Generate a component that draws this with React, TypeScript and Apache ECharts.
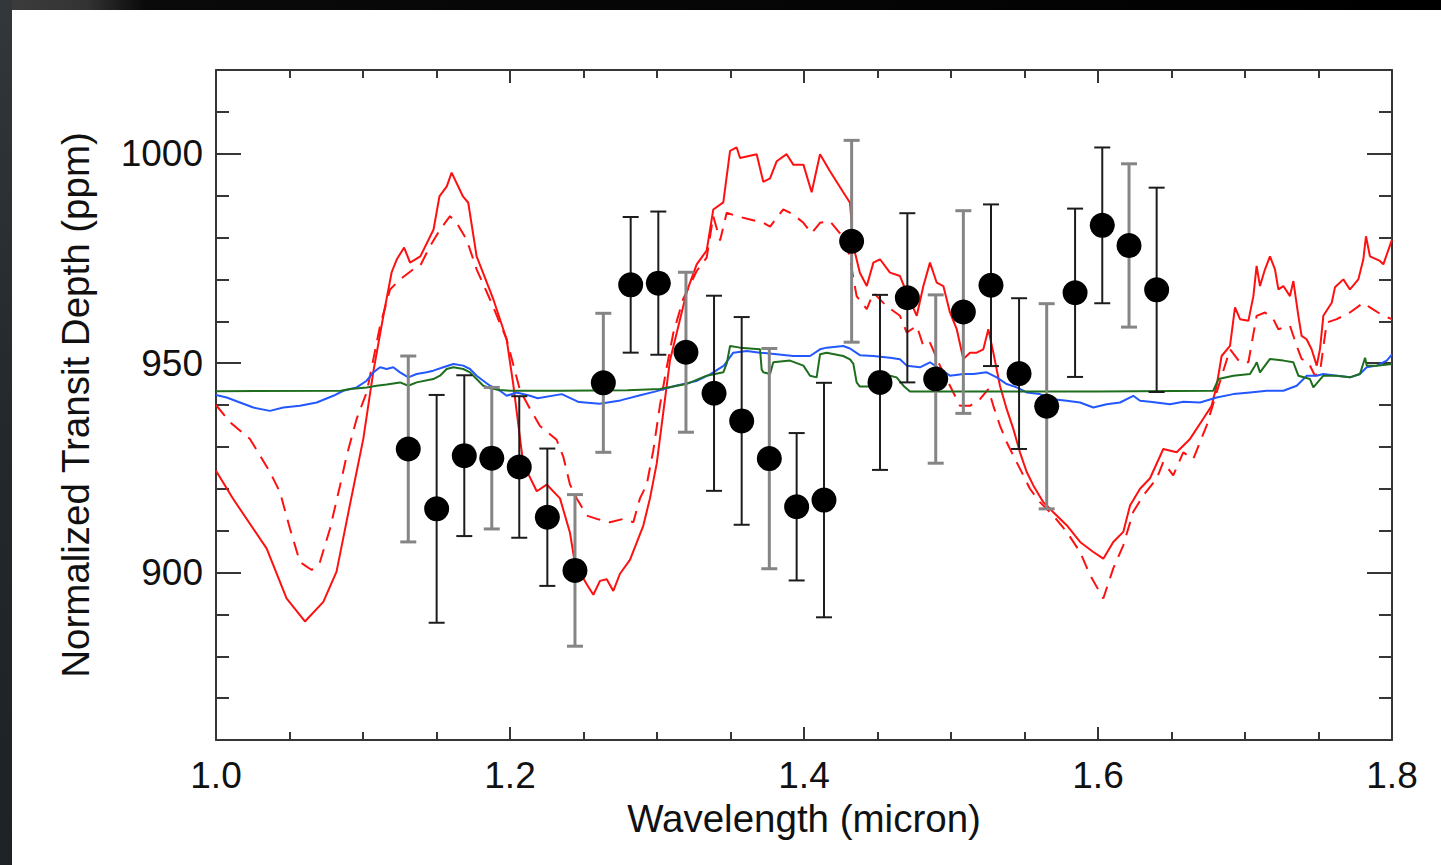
import React, { useEffect, useRef } from "react";
import * as echarts from "echarts";

// ---- axes ----
const xMin = 1.0;
const xMax = 1.8;
const xStep = 0.2;
const yMin = 860;
const yMax = 1020;
const yMinorStep = 10;
const yMajorTicks = [900, 950, 1000];

// ---- model spectra: [wavelength (micron), transit depth (ppm)] ----
const redSolid: number[][] = [
  [1.0, 924.3], [1.0116, 917.6], [1.0345, 905.7], [1.048, 893.8], [1.0605, 888.3], [1.073, 893.0],
  [1.082, 900.2], [1.091, 916.0], [1.1002, 931.9], [1.107, 947.9], [1.1138, 961.2], [1.1195, 971.7],
  [1.123, 974.8], [1.128, 977.6], [1.132, 974.0], [1.139, 975.5], [1.148, 981.9], [1.152, 989.8],
  [1.157, 992.2], [1.1603, 995.5], [1.168, 989.8], [1.1716, 988.3], [1.1773, 975.5], [1.1887, 965.2],
  [1.1977, 955.7], [1.2022, 945.0], [1.209, 926.0], [1.2182, 919.4], [1.225, 921.0], [1.234, 917.7],
  [1.2408, 909.5], [1.2442, 902.1], [1.2522, 897.2], [1.2567, 894.7], [1.2612, 898.0], [1.2658, 898.4],
  [1.2703, 895.6], [1.2748, 899.7], [1.2816, 903.0], [1.2907, 911.2], [1.2952, 917.7], [1.2998, 926.0],
  [1.3043, 938.3], [1.3088, 950.6], [1.3134, 957.2], [1.3202, 967.0], [1.327, 973.6], [1.3338, 976.9],
  [1.3383, 986.7], [1.3451, 988.4], [1.3497, 1000.7], [1.3542, 1001.5], [1.3565, 999.0], [1.3678, 999.9],
  [1.3723, 993.3], [1.3769, 994.1], [1.3814, 998.2], [1.3882, 999.9], [1.3927, 997.4], [1.3996, 997.4],
  [1.4052, 990.8], [1.4109, 999.9], [1.4177, 995.8], [1.4267, 990.8], [1.4313, 988.3], [1.4336, 977.9],
  [1.438, 971.6], [1.4427, 968.4], [1.4472, 974.0], [1.4517, 974.8], [1.4585, 971.6], [1.4653, 970.8],
  [1.4699, 966.8], [1.4767, 961.3], [1.4812, 968.4], [1.4857, 974.0], [1.4903, 969.2], [1.4948, 968.4],
  [1.4993, 962.1], [1.5039, 958.1], [1.5084, 951.0], [1.5129, 952.5], [1.5175, 952.5], [1.522, 953.3],
  [1.5254, 958.1], [1.5288, 952.5], [1.5333, 944.6], [1.5379, 939.0], [1.5424, 934.3], [1.5469, 928.7],
  [1.5515, 924.0], [1.556, 920.8], [1.5628, 916.8], [1.5696, 914.4], [1.5787, 911.3], [1.5878, 907.3],
  [1.5968, 904.9], [1.6036, 903.3], [1.6104, 907.3], [1.6172, 909.7], [1.6218, 916.0], [1.6286, 920.0],
  [1.6354, 922.5], [1.6444, 929.5], [1.6535, 928.7], [1.6626, 931.9], [1.6716, 936.7], [1.6773, 939.8],
  [1.6807, 944.6], [1.6841, 951.7], [1.6898, 954.1], [1.6932, 963.3], [1.6966, 960.5], [1.7023, 960.1],
  [1.7057, 966.0], [1.7079, 973.2], [1.7102, 968.4], [1.7136, 972.4], [1.717, 975.5], [1.7204, 972.4],
  [1.7227, 967.6], [1.7261, 968.4], [1.7306, 966.0], [1.7329, 969.6], [1.7363, 961.3], [1.7385, 956.5],
  [1.7419, 955.7], [1.7453, 953.3], [1.7488, 949.4], [1.751, 953.3], [1.7533, 961.3], [1.759, 964.4],
  [1.7612, 968.1], [1.7669, 970.0], [1.7714, 967.6], [1.7771, 970.0], [1.7805, 974.8], [1.7823, 980.3],
  [1.785, 975.5], [1.7918, 974.4], [1.7941, 973.6], [1.8, 979.5],
];

const redDashed: number[][] = [
  [1.0, 940.0], [1.0095, 935.9], [1.0231, 931.9], [1.0367, 924.0], [1.0435, 919.2], [1.0503, 910.5],
  [1.0571, 902.5], [1.0651, 900.6], [1.0707, 902.5], [1.0776, 910.5], [1.0844, 920.8], [1.0889, 927.9],
  [1.0957, 936.7], [1.1025, 943.0], [1.1116, 958.9], [1.1184, 967.6], [1.1252, 970.0], [1.1342, 972.4],
  [1.1388, 973.2], [1.1456, 977.9], [1.1524, 981.9], [1.1592, 985.1], [1.1637, 983.5], [1.1705, 979.5],
  [1.1773, 972.4], [1.1864, 965.2], [1.1977, 955.7], [1.2068, 943.5], [1.2136, 939.1], [1.2204, 935.0],
  [1.2317, 931.7], [1.2363, 927.6], [1.2408, 921.0], [1.2454, 917.7], [1.2522, 913.6], [1.259, 912.8],
  [1.268, 912.0], [1.2771, 912.8], [1.2839, 912.0], [1.2884, 917.7], [1.293, 921.0], [1.2975, 929.2],
  [1.302, 939.9], [1.3066, 949.0], [1.3111, 957.2], [1.3179, 965.4], [1.327, 972.0], [1.3338, 975.2],
  [1.3383, 985.1], [1.3429, 979.3], [1.3474, 985.9], [1.3542, 985.1], [1.3633, 984.3], [1.3723, 983.5],
  [1.3769, 982.6], [1.3859, 986.7], [1.3927, 985.5], [1.3996, 983.5], [1.4052, 981.0], [1.4109, 983.5],
  [1.4177, 983.9], [1.4245, 981.0], [1.429, 978.5], [1.4313, 974.8], [1.4358, 966.0], [1.4427, 962.9],
  [1.4472, 966.8], [1.4562, 963.6], [1.4653, 961.3], [1.4699, 957.3], [1.4767, 958.9], [1.4812, 954.1],
  [1.4857, 954.9], [1.4925, 949.4], [1.4993, 944.6], [1.5061, 939.8], [1.5129, 939.8], [1.5197, 941.4],
  [1.5254, 943.8], [1.5288, 939.8], [1.5333, 935.1], [1.5379, 931.1], [1.5424, 927.9], [1.5469, 924.8],
  [1.5537, 920.0], [1.5605, 916.8], [1.5696, 913.6], [1.5787, 909.7], [1.5878, 904.9], [1.5946, 899.4],
  [1.6036, 893.8], [1.6104, 901.0], [1.6172, 906.5], [1.624, 914.5], [1.6308, 918.4], [1.6399, 922.4],
  [1.6444, 926.4], [1.6512, 923.2], [1.658, 928.7], [1.6648, 927.1], [1.6739, 935.1], [1.6807, 943.0],
  [1.6898, 953.3], [1.6966, 950.2], [1.7023, 950.2], [1.7079, 961.3], [1.7136, 962.1], [1.7193, 960.5],
  [1.7227, 958.1], [1.7306, 958.9], [1.7352, 954.1], [1.7385, 951.0], [1.7431, 950.2], [1.7476, 947.0],
  [1.751, 947.8], [1.7556, 959.7], [1.7624, 960.5], [1.7714, 962.1], [1.7805, 964.4], [1.785, 963.3],
  [1.7941, 961.3], [1.8, 960.5],
];

const blueModel: number[][] = [
  [1.0, 942.4], [1.0073, 941.8], [1.0163, 940.6], [1.0254, 939.4], [1.0367, 938.6], [1.0458, 939.4],
  [1.0571, 939.8], [1.0685, 940.6], [1.0798, 942.2], [1.0866, 943.4], [1.0957, 944.2], [1.1025, 945.8],
  [1.107, 947.8], [1.1116, 949.0], [1.1161, 948.6], [1.1206, 949.0], [1.1252, 947.8], [1.1308, 946.6],
  [1.1365, 947.4], [1.1433, 947.8], [1.1478, 948.2], [1.1546, 949.0], [1.1615, 949.8], [1.1682, 949.4],
  [1.1728, 948.6], [1.1773, 947.0], [1.1818, 945.8], [1.1864, 944.6], [1.1932, 943.4], [1.1977, 942.2],
  [1.2045, 943.0], [1.2136, 942.2], [1.2188, 941.6], [1.2352, 942.6], [1.2469, 940.7], [1.261, 940.3],
  [1.2751, 941.1], [1.2892, 942.4], [1.2986, 943.2], [1.3127, 944.6], [1.3267, 945.7], [1.3361, 947.3],
  [1.3455, 949.4], [1.3519, 952.5], [1.361, 952.9], [1.3701, 952.5], [1.3814, 952.1], [1.3927, 951.7],
  [1.4041, 951.7], [1.4109, 953.3], [1.4154, 953.7], [1.4267, 954.1], [1.4313, 953.5], [1.438, 951.9],
  [1.4472, 951.7], [1.4585, 951.3], [1.4653, 950.9], [1.4699, 949.4], [1.4789, 949.0], [1.4857, 950.2],
  [1.4925, 948.6], [1.4993, 947.0], [1.5084, 947.4], [1.5152, 947.4], [1.5243, 947.8], [1.5311, 946.6],
  [1.5379, 945.0], [1.5447, 944.2], [1.5515, 943.0], [1.5605, 942.6], [1.5696, 941.4], [1.5787, 941.0],
  [1.5878, 940.6], [1.5968, 939.4], [1.6059, 940.2], [1.615, 940.6], [1.624, 942.2], [1.6286, 941.0],
  [1.6354, 940.8], [1.649, 940.2], [1.6581, 940.8], [1.6694, 940.6], [1.6807, 941.8], [1.6921, 942.6],
  [1.7034, 943.0], [1.7148, 943.4], [1.7261, 943.4], [1.7352, 944.6], [1.742, 947.0], [1.7488, 947.0],
  [1.7533, 947.4], [1.7624, 947.0], [1.7714, 946.6], [1.7782, 947.4], [1.7828, 949.0], [1.7896, 949.4],
  [1.7964, 950.6], [1.8, 952.1],
];

const greenModel: number[][] = [
  [1.0, 943.3], [1.085, 943.4], [1.0912, 943.8], [1.1025, 944.2], [1.1093, 944.6], [1.1161, 944.9],
  [1.1252, 945.4], [1.1308, 944.6], [1.1365, 945.4], [1.1478, 946.2], [1.1524, 947.0], [1.1569, 948.6],
  [1.1615, 949.0], [1.1682, 948.6], [1.1728, 947.8], [1.1773, 946.2], [1.1818, 944.6], [1.1864, 944.0],
  [1.1932, 943.6], [1.2, 943.4], [1.234, 943.4], [1.28, 943.5], [1.302, 943.8], [1.32, 945.0],
  [1.3338, 947.0], [1.3451, 947.8], [1.3475, 950.0], [1.3497, 954.1], [1.3565, 953.7], [1.3701, 953.3],
  [1.3712, 948.5], [1.3723, 947.8], [1.3769, 947.4], [1.3791, 950.2], [1.3905, 950.6], [1.3996, 949.4],
  [1.4041, 947.0], [1.4086, 946.6], [1.4109, 952.1], [1.4154, 952.5], [1.4267, 951.7], [1.4313, 950.9],
  [1.4336, 949.8], [1.4358, 945.4], [1.438, 944.4], [1.4472, 944.4], [1.4517, 945.6], [1.4585, 947.0],
  [1.463, 946.6], [1.4676, 944.6], [1.4721, 943.2], [1.5, 943.2], [1.6, 943.2], [1.6784, 943.4],
  [1.6819, 946.2], [1.6921, 947.0], [1.7034, 947.4], [1.7068, 949.4], [1.708, 950.2], [1.7102, 947.8],
  [1.717, 951.0], [1.7261, 950.6], [1.7329, 950.2], [1.7363, 947.0], [1.7442, 946.2], [1.7465, 944.2],
  [1.7533, 947.0], [1.7624, 947.0], [1.7714, 946.6], [1.7782, 947.4], [1.7817, 951.3], [1.7828, 949.4],
  [1.7896, 949.4], [1.8, 949.8],
];

// ---- observed transit depths ----
const obsWavelength = [
  1.1308, 1.1501, 1.1689, 1.1876, 1.2063, 1.2254, 1.2442, 1.2635, 1.2821, 1.3009, 1.3197, 1.3388, 1.3576, 1.3764,
  1.395, 1.4136, 1.4324, 1.4517, 1.4703, 1.4896, 1.5084, 1.5272, 1.5463, 1.5651, 1.5844, 1.6029, 1.6211, 1.6399,
];
const obsDepth = [
  929.5, 915.2, 927.9, 927.3, 925.2, 913.2, 900.5, 945.3, 968.7, 969.1, 952.6, 942.8, 936.2, 927.2,
  915.7, 917.3, 979.1, 945.4, 965.6, 946.2, 962.2, 968.6, 947.5, 939.7, 966.8, 982.9, 978.1, 967.5,
];
const obsError = [
  22.2, 27.2, 19.2, 16.9, 16.9, 16.4, 18.1, 16.6, 16.2, 17.1, 19.1, 23.3, 24.8, 26.3,
  17.6, 28.0, 24.1, 20.9, 20.2, 20.1, 24.2, 19.3, 18.0, 24.5, 20.1, 18.6, 19.5, 24.4,
];
// error bars that appear lighter (anti-aliased) in the reference
const lightBars = [0, 3, 6, 7, 10, 13, 16, 19, 20, 23, 26];

export default function App() {
  const ref = useRef<HTMLDivElement>(null);

  useEffect(() => {
    if (!ref.current) return;
    const chart = echarts.init(ref.current, null, { renderer: "svg" });
    const axisColor = "#363636";
    const font = "'Liberation Sans', Arial, Helvetica, sans-serif";
    const lineW = 2;
    const tickFont = 37;
    const nameFont = 38.5;

    const xBase = (pos: "bottom" | "top", labels: boolean) => ({
      type: "value",
      position: pos,
      min: xMin,
      max: xMax,
      interval: xStep,
      axisLine: { show: true, onZero: false, lineStyle: { color: axisColor, width: lineW } },
      axisTick: { show: true, inside: true, length: 13, lineStyle: { color: axisColor, width: lineW } },
      minorTick: { show: true, splitNumber: 4, length: 8, lineStyle: { color: axisColor, width: lineW } },
      splitLine: { show: false },
      minorSplitLine: { show: false },
      axisLabel: {
        show: labels,
        margin: 17,
        fontSize: tickFont,
        color: "#111",
        fontFamily: font,
        formatter: (v: number) => v.toFixed(1),
      },
      ...(labels
        ? {
            name: "Wavelength (micron)",
            nameLocation: "middle",
            nameGap: 57,
            nameTextStyle: { fontSize: nameFont, color: "#111", fontFamily: font },
          }
        : {}),
    });

    const yMinor = (pos: "left" | "right") => ({
      type: "value",
      position: pos,
      min: yMin,
      max: yMax,
      interval: yMinorStep,
      axisLine: { show: true, onZero: false, lineStyle: { color: axisColor, width: lineW } },
      axisTick: { show: true, inside: true, length: 13, lineStyle: { color: axisColor, width: lineW } },
      axisLabel: { show: false },
      splitLine: { show: false },
    });

    const yMajor = (pos: "left" | "right", labels: boolean) => ({
      type: "value",
      position: pos,
      min: yMin,
      max: yMax,
      interval: yMinorStep,
      axisLine: { show: false },
      axisTick: {
        show: true,
        inside: true,
        length: 25,
        customValues: yMajorTicks,
        lineStyle: { color: axisColor, width: lineW },
      },
      axisLabel: {
        show: labels,
        customValues: yMajorTicks,
        margin: 13,
        fontSize: tickFont,
        color: "#111",
        fontFamily: font,
        formatter: (v: number) => String(v),
      },
      splitLine: { show: false },
      ...(labels
        ? {
            name: "Normalized Transit Depth (ppm)",
            nameLocation: "middle",
            nameGap: 121,
            nameTextStyle: { fontSize: nameFont, color: "#111", fontFamily: font },
          }
        : {}),
    });

    const errData = obsWavelength.map((x, i) => [x, obsDepth[i], obsError[i]]);
    const ptData = obsWavelength.map((x, i) => [x, obsDepth[i]]);

    const option: any = {
      animation: false,
      backgroundColor: "#ffffff",
      grid: { left: 216, top: 70, width: 1176, height: 670, containLabel: false },
      xAxis: [xBase("bottom", true), xBase("top", false)],
      yAxis: [yMinor("left"), yMajor("left", true), yMinor("right"), yMajor("right", false)],
      graphic: [
        {
          type: "rect",
          shape: { x: 0, y: 0, width: 1441, height: 10 },
          style: {
            fill: new echarts.graphic.LinearGradient(0, 0, 1, 0, [
              { offset: 0, color: "#3d3d3d" },
              { offset: 0.06, color: "#333333" },
              { offset: 0.1, color: "#0a0a0a" },
              { offset: 1, color: "#000000" },
            ]),
          },
          silent: true,
        },
        {
          type: "rect",
          shape: { x: 0, y: 0, width: 12, height: 865 },
          style: {
            fill: new echarts.graphic.LinearGradient(0, 0, 0, 1, [
              { offset: 0, color: "#34373a" },
              { offset: 0.5, color: "#25282b" },
              { offset: 1, color: "#1f2225" },
            ]),
          },
          silent: true,
        },
      ],
      series: [
        {
          type: "line",
          name: "model solid",
          data: redSolid,
          showSymbol: false,
          symbol: "none",
          lineStyle: { color: "#ff1010", width: 2 },
          z: 2,
        },
        {
          type: "line",
          name: "model dashed",
          data: redDashed,
          showSymbol: false,
          symbol: "none",
          lineStyle: { color: "#ff1010", width: 2, type: [14, 9] },
          z: 2,
        },
        {
          type: "line",
          name: "flat blue",
          data: blueModel,
          showSymbol: false,
          symbol: "none",
          lineStyle: { color: "#2358ff", width: 2 },
          z: 3,
        },
        {
          type: "line",
          name: "flat green",
          data: greenModel,
          showSymbol: false,
          symbol: "none",
          lineStyle: { color: "#1e6e1e", width: 2 },
          z: 3,
        },
        {
          type: "custom",
          name: "errors",
          data: errData,
          encode: { x: 0, y: 1 },
          z: 4,
          renderItem: (params: any, api: any) => {
            const x = api.value(0);
            const y = api.value(1);
            const e = api.value(2);
            const top = api.coord([x, y + e]);
            const bot = api.coord([x, y - e]);
            const light = lightBars.indexOf(params.dataIndex) >= 0;
            const style = { stroke: light ? "#858585" : "#1c1c1c", lineWidth: light ? 3 : 2 };
            const hw = 8;
            return {
              type: "group",
              children: [
                { type: "line", shape: { x1: top[0], y1: top[1], x2: bot[0], y2: bot[1] }, style },
                { type: "line", shape: { x1: top[0] - hw, y1: top[1], x2: top[0] + hw, y2: top[1] }, style },
                { type: "line", shape: { x1: bot[0] - hw, y1: bot[1], x2: bot[0] + hw, y2: bot[1] }, style },
              ],
            };
          },
        },
        {
          type: "scatter",
          name: "observed",
          data: ptData,
          symbol: "circle",
          symbolSize: 25,
          itemStyle: { color: "#000000", opacity: 1 },
          z: 5,
        },
      ],
    };

    chart.setOption(option);
    return () => chart.dispose();
  }, []);

  return (
    <div
      ref={ref}
      style={{ position: "fixed", left: 0, top: 0, width: 1441, height: 865, background: "#fff" }}
    />
  );
}
